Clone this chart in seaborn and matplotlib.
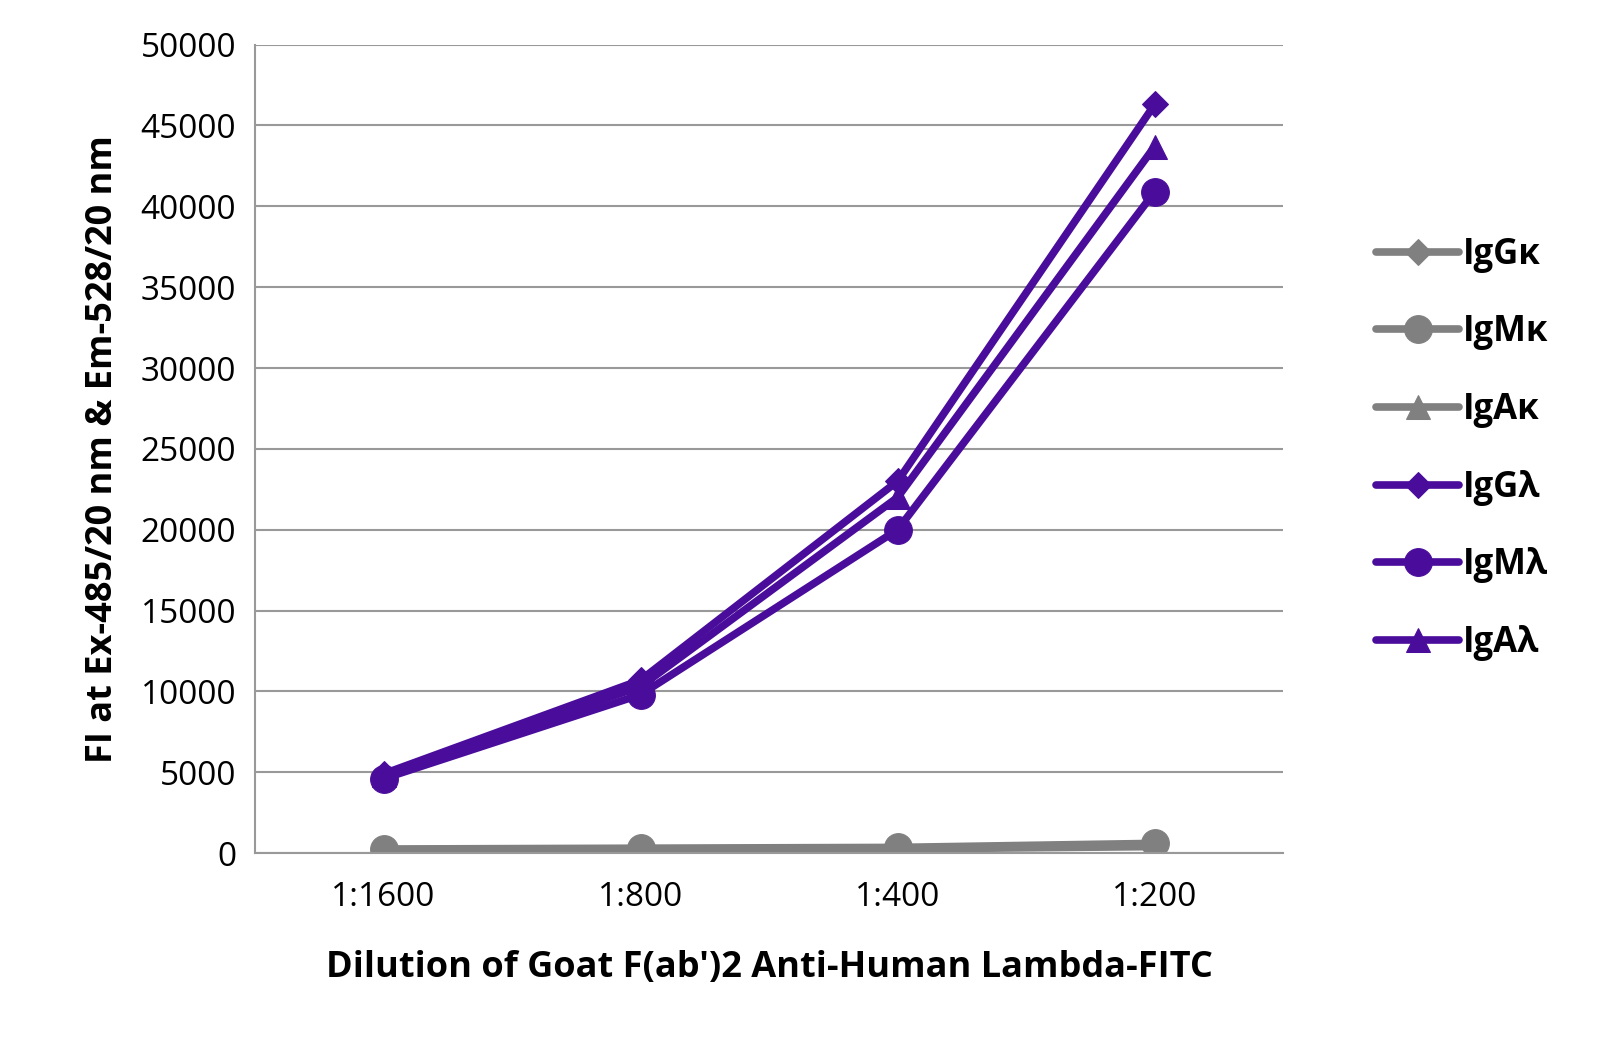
import matplotlib
matplotlib.use("Agg")
import matplotlib.pyplot as plt
import seaborn as sns
import pandas as pd

dilutions = ["1:1600", "1:800", "1:400", "1:200"]
series_names = ["IgGκ", "IgMκ", "IgAκ", "IgGλ", "IgMλ", "IgAλ"]
igg_k = [200, 250, 300, 450]
igm_k = [250, 300, 350, 600]
iga_k = [150, 200, 250, 400]
igg_l = [4900, 10700, 23000, 46300]
igm_l = [4600, 9800, 20000, 40900]
iga_l = [4800, 10300, 22000, 43700]

values = [igg_k, igm_k, iga_k, igg_l, igm_l, iga_l]
markers = ["D", "o", "^", "D", "o", "^"]
msizes = [13, 20, 17, 13, 20, 17]
gray, purple = "#808080", "#4a0d9b"
colors = [gray] * 3 + [purple] * 3

rows = []
for name, vals in zip(series_names, values):
    for i, v in enumerate(vals):
        rows.append({"series": name, "x": i + 0.5, "y": v})
df = pd.DataFrame(rows)

sns.set_style("white")
plt.rcParams["font.family"] = ["Open Sans", "DejaVu Sans"]
plt.rcParams["text.color"] = "black"

fig = plt.figure(figsize=(16.04, 10.63), dpi=100)
ax = fig.add_axes([0.159, 0.1975, 0.641, 0.7605])

for name, m, ms, c in zip(series_names, markers, msizes, colors):
    sns.lineplot(data=df[df["series"] == name], x="x", y="y", ax=ax,
                 color=c, marker=m, markersize=ms, linewidth=5.5,
                 markeredgecolor=c, label=name)

ax.set_xlim(0, 4)
ax.set_ylim(0, 50000)
ax.set_yticks(range(0, 50001, 5000))
ax.set_yticklabels([str(v) for v in range(0, 50001, 5000)], fontsize=24, color="black")
ax.set_xticks([0, 1, 2, 3, 4])
ax.set_xticklabels([])
ax.set_xticks([0.5, 1.5, 2.5, 3.5], minor=True)
ax.set_xticklabels(dilutions, minor=True, fontsize=24, color="black")
ax.tick_params(axis="x", which="major", direction="out", length=10, color="#999999", width=1.5)
ax.tick_params(axis="x", which="minor", length=0, pad=20)
ax.tick_params(axis="y", direction="out", length=10, color="#999999", width=1.5)
ax.grid(axis="y", color="#999999", linewidth=1.5)
for s in ["top", "right"]:
    ax.spines[s].set_visible(False)
for s in ["left", "bottom"]:
    ax.spines[s].set_color("#999999")
    ax.spines[s].set_linewidth(1.5)

ax.set_xlabel("Dilution of Goat F(ab')2 Anti-Human Lambda-FITC", fontsize=26,
              fontweight="bold", labelpad=26, color="black")
ax.set_ylabel("FI at Ex-485/20 nm & Em-528/20 nm", fontsize=26,
              fontweight="bold", labelpad=14, color="black")

leg = ax.legend(loc="center left", bbox_to_anchor=(1.06, 0.5), frameon=False,
                prop={"size": 25, "weight": "bold"}, handlelength=2.4,
                handletextpad=0.1, labelspacing=1.2)

fig.savefig("out.png", dpi=100)
